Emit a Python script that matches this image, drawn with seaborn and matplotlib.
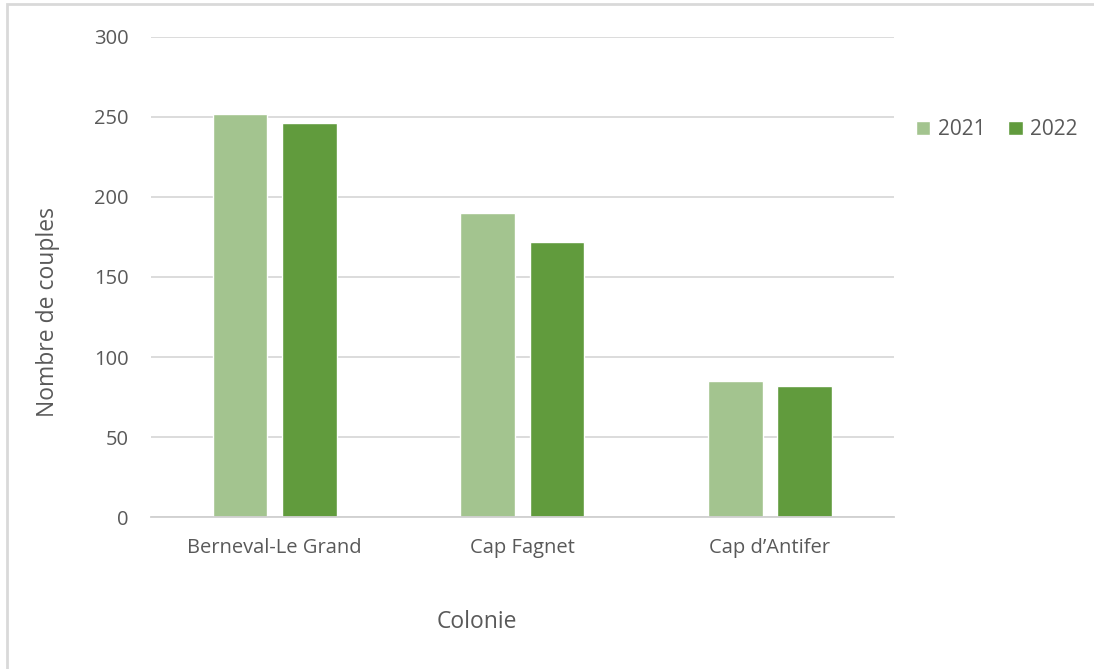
import matplotlib
matplotlib.use("Agg")
import matplotlib.pyplot as plt
import seaborn as sns
import pandas as pd
from matplotlib.patches import Rectangle

# données
colonies = ["Berneval-Le Grand", "Cap Fagnet", "Cap d\u2019Antifer"]
annees = ["2021", "2022"]
couples_2021 = [252, 190, 85]
couples_2022 = [246, 172, 82]

df = pd.DataFrame({
    "Colonie": colonies * 2,
    "Annee": [annees[0]] * 3 + [annees[1]] * 3,
    "Couples": couples_2021 + couples_2022,
})

sns.set_style("white")
plt.rcParams["font.family"] = ["Open Sans", "DejaVu Sans"]

gris = "#595959"
fig = plt.figure(figsize=(10.94, 6.69), dpi=100)
ax = fig.add_axes([0.138, 0.2272, 0.679, 0.7175])

sns.barplot(data=df, x="Colonie", y="Couples", hue="Annee",
            palette=["#A3C48F", "#619B3D"], width=0.56, gap=0.21,
            saturation=1, ax=ax, legend=True)

ax.set_ylim(0, 300)
ax.set_xlim(-0.5, 2.5)
ax.set_yticks(range(0, 301, 50))
ax.yaxis.grid(True, color="#D9D9D9", linewidth=1.3)
ax.set_axisbelow(True)
for s in ["top", "right", "left"]:
    ax.spines[s].set_visible(False)
ax.spines["bottom"].set_color("#D0D0D0")
ax.spines["bottom"].set_linewidth(1.3)
ax.tick_params(axis="both", length=0, labelsize=14.5, colors=gris)
ax.tick_params(axis="x", pad=15)
ax.tick_params(axis="y", pad=16)
ax.set_xlabel("Colonie", fontsize=16.5, color=gris, va="center")
ax.set_ylabel("Nombre de couples", fontsize=16.5, color=gris, va="center")
ax.xaxis.set_label_coords(0.439, -0.219)
ax.yaxis.set_label_coords(-0.139, 0.427)

ax.legend(loc="center", bbox_to_anchor=(0.911, 0.806), bbox_transform=fig.transFigure,
          ncol=2, frameon=False, fontsize=15, labelcolor=gris,
          handlelength=0.7, handleheight=0.7, handletextpad=0.35, columnspacing=1.1)

# cadre gris autour du graphique
fig.patches.append(Rectangle((7 / 1094, -0.1), 1.2, 1 - 4 / 669 + 0.1,
                             transform=fig.transFigure, fill=False,
                             edgecolor="#D9D9D9", linewidth=2))

fig.savefig("out.png", dpi=100)
